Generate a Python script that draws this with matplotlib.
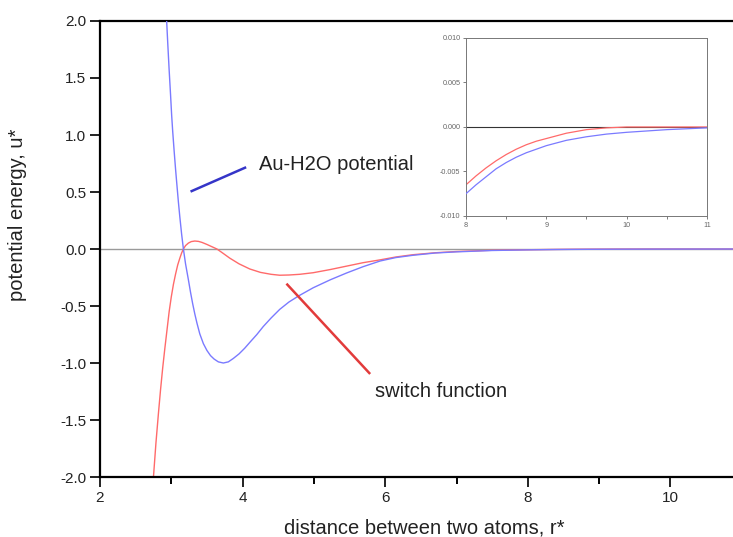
import matplotlib
matplotlib.use("Agg")
from matplotlib import pyplot as plt
from matplotlib.ticker import MultipleLocator, FormatStrFormatter

plt.rcParams['font.family'] = ['Liberation Sans', 'DejaVu Sans']

# values (main plot + inset for the tail)
r_pot = [2.90, 2.92, 2.935, 2.95, 2.97, 2.99, 3.005, 3.02, 3.04, 3.06, 3.075, 3.10,
         3.12, 3.145, 3.17, 3.20, 3.24, 3.27, 3.30, 3.33, 3.36, 3.40, 3.45, 3.50,
         3.55, 3.60, 3.66, 3.73, 3.80, 3.87, 3.95, 4.03, 4.10, 4.20, 4.29, 4.40,
         4.52, 4.65, 4.79, 4.99, 5.23, 5.46, 5.69, 5.93, 6.15, 6.39, 6.7, 7.0,
         7.5, 8.0, 8.125, 8.25, 8.375, 8.5, 8.625, 8.75, 8.875, 9.0, 9.25, 9.5,
         9.75, 10.0, 10.5, 11.0]
u_pot = [2.45, 2.18, 2.00, 1.81, 1.57, 1.35, 1.175, 1.03, 0.86, 0.70, 0.59, 0.41,
         0.28, 0.13, 0.00, -0.13, -0.27, -0.38, -0.48, -0.57, -0.65, -0.745, -0.83, -0.89,
         -0.935, -0.965, -0.99, -1.00, -0.99, -0.96, -0.92, -0.87, -0.82, -0.75, -0.68, -0.605,
         -0.53, -0.465, -0.41, -0.34, -0.27, -0.21, -0.155, -0.105, -0.075, -0.055, -0.035, -0.025,
         -0.013, -0.0075, -0.0065, -0.0056, -0.0047, -0.0040, -0.0034, -0.0029, -0.0025, -0.0021,
         -0.0015, -0.0011, -0.0008, -0.0006, -0.0003, -0.0001]

r_sw = [2.72, 2.75, 2.785, 2.82, 2.85, 2.88, 2.91, 2.94, 2.97, 3.00, 3.03, 3.06,
        3.09, 3.12, 3.145, 3.17, 3.20, 3.24, 3.28, 3.33, 3.38, 3.43, 3.50, 3.57,
        3.64, 3.72, 3.82, 3.95, 4.10, 4.25, 4.40, 4.52, 4.65, 4.80, 4.99, 5.23,
        5.46, 5.69, 5.93, 6.15, 6.39, 6.7, 7.0, 7.5, 8.0, 8.125, 8.25, 8.375,
        8.5, 8.625, 8.75, 8.875, 9.0, 9.25, 9.5, 9.75, 10.0, 10.5, 11.0]
u_sw = [-2.28, -2.00, -1.70, -1.44, -1.23, -1.04, -0.87, -0.71, -0.55, -0.42, -0.31, -0.22,
        -0.14, -0.08, -0.035, 0.00, 0.03, 0.052, 0.065, 0.07, 0.067, 0.058, 0.04, 0.02,
        0.00, -0.035, -0.08, -0.13, -0.175, -0.205, -0.222, -0.23, -0.228, -0.222, -0.208, -0.18,
        -0.15, -0.12, -0.095, -0.07, -0.05, -0.033, -0.022, -0.011, -0.0065, -0.0055, -0.0046, -0.0038,
        -0.0031, -0.0025, -0.0020, -0.0016, -0.0013, -0.0007, -0.0003, -0.0001, 0.0, 0.0, 0.0]

blue = '#7a7aff'
red = '#ff6a6a'
txt = '#222222'

fig = plt.figure(figsize=(7.33, 5.37), dpi=100)
ax = fig.add_axes([0.1364, 0.1117, 0.8755, 0.8492])

ax.axhline(0, color='#9a9a9a', lw=1.0, zorder=1)
ax.plot(r_pot, u_pot, color=blue, lw=1.0, zorder=3)
ax.plot(r_sw, u_sw, color=red, lw=1.0, zorder=2)

ax.set_xlim(2, 11)
ax.set_ylim(-2, 2)
ax.xaxis.set_major_locator(MultipleLocator(2))
ax.xaxis.set_minor_locator(MultipleLocator(1))
ax.yaxis.set_major_locator(MultipleLocator(0.5))
ax.yaxis.set_major_formatter(FormatStrFormatter('%.1f'))
ax.tick_params(which='major', direction='out', length=7, width=1.4, labelsize=11,
               colors=txt, pad=3)
ax.tick_params(which='minor', direction='out', length=5, width=1.4)
for side in ['left', 'bottom', 'top']:
    ax.spines[side].set_linewidth(1.6)
ax.spines['right'].set_visible(False)

ax.set_xlabel('distance between two atoms, r*', fontsize=14.5, color=txt)
ax.set_ylabel('potential energy, u*', fontsize=14.5, color=txt)
ax.xaxis.set_label_coords(0.505, -0.092)
ax.yaxis.set_label_coords(-0.114, 0.575)

# annotation lines and labels
ax.plot([3.286, 4.034], [0.508, 0.713], color='#3535c8', lw=1.8, zorder=4)
ax.text(4.23, 0.743, 'Au-H2O potential', fontsize=14.5, va='center', ha='left', color=txt)
ax.plot([4.627, 5.777], [-0.312, -1.088], color='#e23b3b', lw=1.8, zorder=4)
ax.text(5.857, -1.25, 'switch function', fontsize=14.5, va='center', ha='left', color=txt)

# inset: tail of both curves
ins = fig.add_axes([0.6357, 0.5978, 0.3288, 0.3315])
ins.axhline(0, color='#333333', lw=0.8, zorder=1)
ins.plot(r_pot, u_pot, color=blue, lw=0.9, zorder=3)
ins.plot(r_sw, u_sw, color=red, lw=0.9, zorder=2)
ins.set_xlim(8, 11)
ins.set_ylim(-0.010, 0.010)
ins.xaxis.set_major_locator(MultipleLocator(1))
ins.xaxis.set_minor_locator(MultipleLocator(0.5))
ins.yaxis.set_major_locator(MultipleLocator(0.005))
ins.yaxis.set_major_formatter(FormatStrFormatter('%.3f'))
ins.tick_params(which='both', direction='out', length=2, width=0.6, labelsize=5.2,
                colors='#666666', pad=2)
for s in ins.spines.values():
    s.set_linewidth(0.7)
    s.set_color('#777777')

fig.savefig('out.png', dpi=100)
